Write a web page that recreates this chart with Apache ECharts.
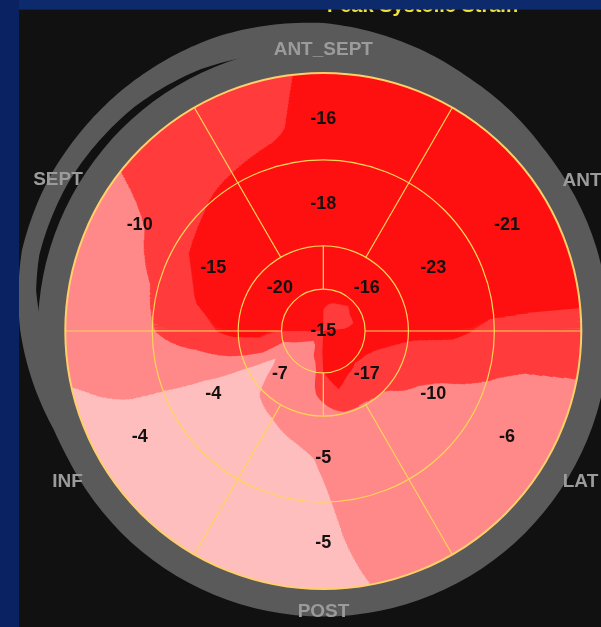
<!DOCTYPE html>
<html>
<head>
<meta charset="utf-8">
<title>Peak Systolic Strain</title>
<script src="https://cdn.jsdelivr.net/npm/echarts@6/dist/echarts.min.js"></script>
<style>
  html, body { margin: 0; padding: 0; background: #0C2566; }
  #chart { width: 601px; height: 627px; }
</style>
</head>
<body>
<div id="chart"></div>
<script>
// ---- 17-segment bull's-eye: wall names and segment peak systolic strain (%) ----
const wallNames = ['ANT_SEPT', 'SEPT', 'INF', 'POST', 'LAT', 'ANT'];
const sixAngles = [90, 150, 210, 270, 330, 30];          // segment centres, basal + mid rings
const basalValues = [-16, -10, -4, -5, -6, -21];
const midValues = [-18, -15, -4, -5, -10, -23];
const apicalAngles = [135, 225, 315, 45];
const apicalValues = [-20, -7, -17, -16];
const apexValue = -15;

// ---- colour band of the strain map (1 = weakest ... 4 = strongest) ----
// columns every 15 deg counter-clockwise from the lateral side, rows outward
const bandAngles = [0, 15, 30, 45, 60, 75, 90, 105, 120, 135, 150, 165,
                    180, 195, 210, 225, 240, 255, 270, 285, 300, 315, 330, 345];
const bandRadii = [0.081, 0.159, 0.248, 0.349, 0.5, 0.651, 0.798, 1.0];
const bandCentre = 3.5;
const bandRing1 = [3.7, 3.2, 3.0, 3.0, 3.0, 3.2, 3.5, 4, 4, 4, 4, 4, 3.5, 3.0, 2.5, 2.0, 2.2, 3.0, 3.6, 4, 4, 4, 4, 3.8];
const bandRing2 = [4, 3.8, 4, 3.7, 4, 4, 4, 4, 4, 4, 4, 4, 3.5, 2.5, 1.8, 1.9, 2.0, 2.0, 3.5, 4, 3.8, 3.6, 3.7, 3.8];
const bandRing3 = [3.8, 4, 4, 4, 4, 4, 4, 4, 4, 4, 4, 4, 3.8, 3.0, 1.3, 1.8, 2.0, 2.2, 2.7, 3.4, 3.0, 3.0, 3.1, 3.5];
const bandRing4 = [3.7, 4, 4, 4, 4, 4, 4, 4, 4, 4, 4, 4, 3.8, 2.6, 1.0, 1.5, 1.7, 2.0, 2.0, 2.2, 2.3, 2.4, 2.8, 3.2];
const bandRing5 = [3.7, 4, 4, 4, 4, 4, 4, 4, 4, 4, 3.9, 3.6, 3.1, 2.0, 1, 1, 1, 1.2, 1.6, 2.0, 2, 2, 2.2, 2.9];
const bandRing6 = [3.3, 4, 4, 4, 4, 4, 4, 4, 3.8, 3.5, 3.3, 2.7, 2.5, 1.8, 1, 1, 1, 1, 1.4, 2.0, 2, 2, 2, 2.6];
const bandRing7 = [3.24, 4, 4, 4, 4, 4, 4, 3.3, 3.0, 3.0, 2.5, 2.0, 2.0, 1.7, 1, 1, 1, 1, 1.2, 2.0, 2, 2, 2, 2.3];
const bandRing8 = [3.22, 4, 4, 4, 4, 4, 3.9, 3.0, 3.0, 2.9, 2.0, 2.0, 2.0, 1.4, 1, 1, 1, 1, 1.0, 1.7, 2, 2, 2, 2.2];
const bandRows = [bandRing1, bandRing2, bandRing3, bandRing4, bandRing5, bandRing6, bandRing7, bandRing8];

// ---- layout / style ----
const CX = 323.3, CY = 331, R = 258;
const ringRadii = [0.162, 0.33, 0.663, 1.0];
const bandColors = ['#FFBEBE', '#FF8888', '#FF3B3B', '#FF1010'];
const gridColor = '#FFD45A';
const labelFont = 'bold 18px "Liberation Sans", Arial, sans-serif';
const wallFont = 'bold 19px "Liberation Sans", Arial, sans-serif';

// smooth band value at (rho, angle) from the sampled rings
function bandValue(rho, theta) {
  const a = (((theta % 360) + 360) % 360) / 15;
  const i0 = Math.floor(a) % 24, i1 = (i0 + 1) % 24, t = a - Math.floor(a);
  const rowAt = k => bandRows[k][i0] * (1 - t) + bandRows[k][i1] * t;
  if (rho <= bandRadii[0]) {
    const f = rho / bandRadii[0];
    return bandCentre * (1 - f) + rowAt(0) * f;
  }
  for (let k = 1; k < bandRadii.length; k++) {
    if (rho <= bandRadii[k]) {
      const f = (rho - bandRadii[k - 1]) / (bandRadii[k] - bandRadii[k - 1]);
      return rowAt(k - 1) * (1 - f) + rowAt(k) * f;
    }
  }
  return rowAt(bandRadii.length - 1);
}
function bandClass(v) { return v >= 3.5 ? 3 : v >= 2.5 ? 2 : v >= 1.5 ? 1 : 0; }

// layered polar runs: layer k holds every stretch of a ray whose band class is >= k
// (each column overlaps its neighbours slightly so the filled path has no seams)
const layerRuns = [[], [], [], []];
const dA = 0.25, pad = 0.15, nR = 300;
for (let c = 0; c < 360 / dA; c++) {
  const a0 = c * dA, am = a0 + dA / 2;
  const cls = [];
  for (let j = 0; j < nR; j++) cls.push(bandClass(bandValue((j + 0.5) / nR, am)));
  for (let k = 0; k < 4; k++) {
    let start = -1;
    for (let j = 0; j <= nR; j++) {
      const inside = j < nR && cls[j] >= k;
      if (inside && start < 0) start = j;
      if (!inside && start >= 0) {
        layerRuns[k].push([start / nR, a0 - pad, j / nR, a0 + dA + pad]);
        start = -1;
      }
    }
  }
}
const layers = [[0, 0, 0], [0, 0, 1], [0, 0, 2], [0, 0, 3]];

// segment borders
const spokes = [];
sixAngles.forEach(a => spokes.push([ringRadii[1], a - 30, ringRadii[3]]));
[0, 90, 180, 270].forEach(a => spokes.push([ringRadii[0], a, ringRadii[1]]));

// value labels
const labels = [];
basalValues.forEach((v, i) => labels.push([0.822, sixAngles[i], v]));
midValues.forEach((v, i) => labels.push([0.492, sixAngles[i], v]));
apicalValues.forEach((v, i) => labels.push([0.238, apicalAngles[i], v]));
labels.push([0, 0, apexValue]);

// grey frame: ring plus the swept arc on the septal side
function lerpTable(tbl, a) {
  for (let i = 1; i < tbl.length; i++) {
    if (a <= tbl[i][0]) {
      const f = (a - tbl[i - 1][0]) / (tbl[i][0] - tbl[i - 1][0]);
      return tbl[i - 1][1] * (1 - f) + tbl[i][1] * f;
    }
  }
  return tbl[tbl.length - 1][1];
}
const sweepOuter = [[20, 284], [40, 286], [60, 292], [75, 300], [90, 308], [110, 313], [130, 314],
                    [150, 314], [165, 312], [180, 303], [190, 295], [200, 287], [215, 283]];
const sweepGap = [[105, 284], [115, 289], [130, 293], [150, 295], [165, 294], [172, 290], [177, 284]];
function pt(r, a) { const t = a * Math.PI / 180; return [CX + r * Math.cos(t), CY - r * Math.sin(t)]; }
const sweepPts = [];
for (let a = 20; a <= 215; a++) sweepPts.push(pt(lerpTable(sweepOuter, a), a));
for (let a = 215; a >= 20; a--) sweepPts.push(pt(a >= 105 && a <= 177 ? lerpTable(sweepGap, a) : 283, a));

const wallPos = [[323.3, 50], [58, 180], [67.5, 481.5], [323.5, 612], [580.5, 481.5], [582, 181]];

const chart = echarts.init(document.getElementById('chart'));
chart.setOption({
  backgroundColor: '#0C2566',
  animation: false,
  polar: { center: [CX, CY], radius: R },
  radiusAxis: { type: 'value', min: 0, max: 1, show: false },
  angleAxis: { type: 'value', min: 0, max: 360, startAngle: 0, clockwise: false, show: false },
  graphic: [
    { type: 'rect', z: 0, shape: { x: 19, y: 9.5, width: 590, height: 620 }, style: { fill: '#111111' } },
    { type: 'polygon', z: 1, shape: { points: sweepPts }, style: { fill: '#5A5A5A' } },
    { type: 'ring', z: 1, shape: { cx: CX, cy: CY, r: 285.5, r0: 256 }, style: { fill: '#5A5A5A' } },
    ...wallNames.map((n, i) => ({
      type: 'text', z: 1, x: wallPos[i][0], y: wallPos[i][1],
      style: { text: n, font: wallFont, fill: '#9B9B9B', align: 'center', verticalAlign: 'middle' }
    })),
    { type: 'text', z: 50, x: 422.5, y: 16,
      style: { text: 'Peak Systolic Strain', font: 'bold 20px "Liberation Sans", Arial, sans-serif',
               fill: '#F2E43A', align: 'center', verticalAlign: 'bottom' } },
    { type: 'rect', z: 100, shape: { x: 0, y: 0, width: 601, height: 9.5 }, style: { fill: '#0C2A6C' } },
    { type: 'rect', z: 100, shape: { x: 0, y: 0, width: 19, height: 627 }, style: { fill: '#0B2262' } }
  ],
  series: [
    {
      // strain colour map, one filled path per band layer (lighter layers underneath)
      type: 'custom', coordinateSystem: 'polar', silent: true,
      data: layers,
      renderItem(params, api) {
        const k = api.value(2);
        const f = p => p[0].toFixed(2) + ' ' + p[1].toFixed(2);
        let d = '';
        for (const run of layerRuns[k]) {
          const [r0, a0, r1, a1] = run;
          d += 'M' + f(api.coord([r0, a0])) + 'L' + f(api.coord([r1, a0])) +
               'L' + f(api.coord([r1, a1])) + 'L' + f(api.coord([r0, a1])) + 'Z';
        }
        return { type: 'path', shape: { pathData: d }, style: { fill: bandColors[k] } };
      }
    },
    {
      type: 'custom', coordinateSystem: 'polar', silent: true, z: 3,
      data: spokes,
      renderItem(params, api) {
        const p0 = api.coord([api.value(0), api.value(1)]);
        const p1 = api.coord([api.value(2), api.value(1)]);
        return { type: 'line', shape: { x1: p0[0], y1: p0[1], x2: p1[0], y2: p1[1] },
                 style: { stroke: gridColor, lineWidth: 1.2 } };
      }
    },
    {
      type: 'custom', coordinateSystem: 'polar', silent: true, z: 3,
      data: ringRadii.map(r => [r, 0]),
      renderItem(params, api) {
        const c = api.coord([0, 0]);
        const p = api.coord([api.value(0), 0]);
        const rr = Math.hypot(p[0] - c[0], p[1] - c[1]);
        const outer = params.dataIndex === ringRadii.length - 1;
        return { type: 'circle', shape: { cx: c[0], cy: c[1], r: rr },
                 style: { fill: 'none', stroke: outer ? '#FFCF6A' : gridColor, lineWidth: outer ? 2 : 1.2 } };
      }
    },
    {
      type: 'custom', coordinateSystem: 'polar', silent: true, z: 4,
      data: labels,
      renderItem(params, api) {
        const p = api.coord([api.value(0), api.value(1)]);
        return { type: 'text', x: p[0], y: p[1],
                 style: { text: String(api.value(2)), font: labelFont, fill: '#141010',
                          align: 'center', verticalAlign: 'middle' } };
      }
    }
  ]
});
</script>
</body>
</html>
